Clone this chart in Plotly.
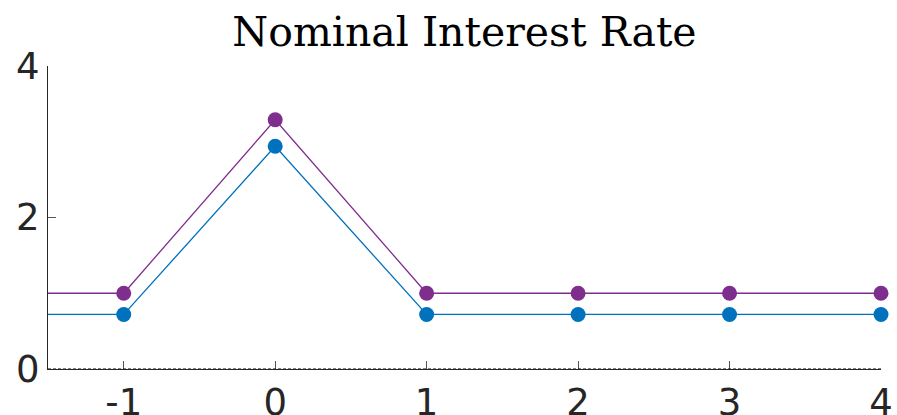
import plotly.graph_objects as go

periods = [-2, -1, 0, 1, 2, 3, 4]
series_a = [1.0, 1.0, 3.29, 1.0, 1.0, 1.0, 1.0]      # purple
series_b = [0.72, 0.72, 2.94, 0.72, 0.72, 0.72, 0.72]  # blue
x_ticks = [-1, 0, 1, 2, 3, 4]
y_ticks = [0, 2, 4]
title_text = "Nominal Interest Rate"

purple = "#7E2F8E"
blue = "#0072BD"
msizes = [0] + [15] * (len(periods) - 1)

fig = go.Figure()
for vals, col in [(series_a, purple), (series_b, blue)]:
    fig.add_trace(go.Scatter(
        x=periods, y=vals, mode="lines+markers",
        line=dict(color=col, width=1.3),
        marker=dict(color=col, size=msizes, opacity=1, line=dict(width=0)),
        cliponaxis=False, showlegend=False,
    ))

fig.add_hline(y=0, line=dict(color="black", width=1.2, dash="3px,2px"), layer="above")

fig.update_layout(
    width=897, height=415,
    margin=dict(l=48, r=16, t=66, b=46, autoexpand=False),
    paper_bgcolor="white", plot_bgcolor="white",
    title=dict(text=title_text, x=0.5, xref="paper", xanchor="center", y=0.958, yanchor="top",
               font=dict(family="DejaVu Serif", size=41, color="black"), automargin=False),
    font=dict(family="DejaVu Sans", size=37, color="#262626"),
)
fig.update_xaxes(
    range=[-1.5, 4], tickvals=x_ticks, ticktext=[str(v) for v in x_ticks],
    showgrid=False, zeroline=False, showline=True, linecolor="#262626", linewidth=1.2,
    ticks="inside", ticklen=8, tickcolor="#555555", tickwidth=1, automargin=False,
    tickfont=dict(size=37, color="#262626"),
)
fig.update_yaxes(
    range=[0, 4], tickvals=y_ticks, ticktext=[str(v) for v in y_ticks],
    showgrid=False, zeroline=False, showline=True, linecolor="#262626", linewidth=1.2,
    ticks="inside", ticklen=8, tickcolor="#555555", tickwidth=1, automargin=False,
    tickfont=dict(size=37, color="#262626"),
)

fig.write_html("out.html", config={"displayModeBar": False},
               post_script="document.body.style.margin='0';")
